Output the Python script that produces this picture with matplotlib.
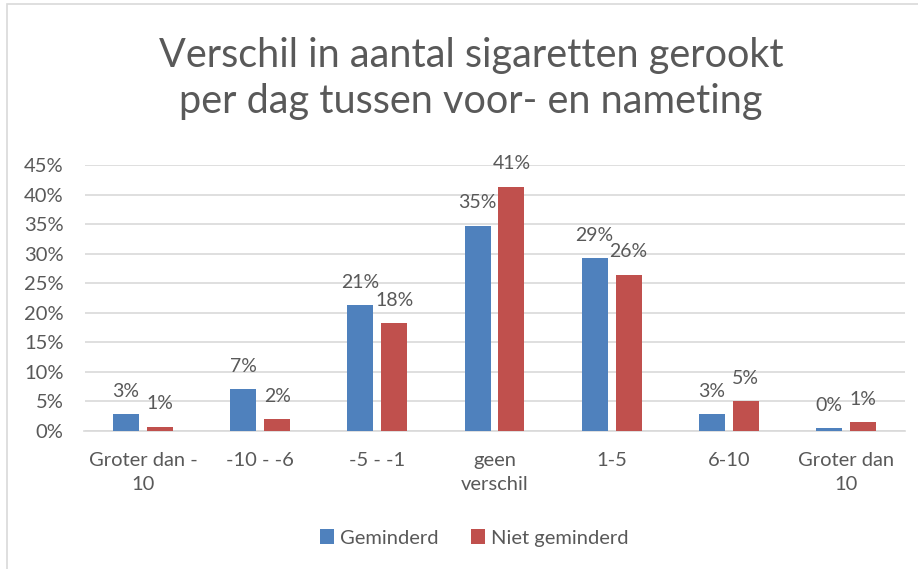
import matplotlib
matplotlib.use("Agg")
import matplotlib.pyplot as plt
from matplotlib.patches import Rectangle
import numpy as np


CATEGORIES = ["Groter dan -\n10", "-10 - -6", "-5 - -1", "geen\nverschil",
              "1-5", "6-10", "Groter dan\n10"]
GEMINDERD = [2.8, 7.0, 21.3, 34.7, 29.2, 2.8, 0.4]
NIET_GEMINDERD = [0.7, 2.0, 18.2, 41.3, 26.4, 5.0, 1.4]
SERIES_NAMES = ["Geminderd", "Niet geminderd"]
Y_TICKS = [0, 5, 10, 15, 20, 25, 30, 35, 40, 45]

TITLE = "Verschil in aantal sigaretten gerookt\nper dag tussen voor- en nameting"

BLUE = "#4F81BD"
RED = "#C0504D"
TEXT_GRAY = "#595959"
GRID_GRAY = "#D9D9D9"

plt.rcParams["font.family"] = ["Lato", "DejaVu Sans"]

W, H = 918, 569
fig = plt.figure(figsize=(W / 100, H / 100), dpi=100)

# thin chart-area border (left and top visible)
fig.patches.append(Rectangle((6.5 / W, -0.1), 1.2, 1 - 3.5 / H + 0.1,
                             transform=fig.transFigure, fill=False,
                             edgecolor=GRID_GRAY, linewidth=1.2))

ax = fig.add_axes([84.5 / W, 1 - 430.7 / H, 820 / W, 265.7 / H])

x = np.arange(len(CATEGORIES))
width = 0.222
offset = 0.145

bars1 = ax.bar(x - offset, GEMINDERD, width, color=BLUE, label=SERIES_NAMES[0], zorder=3)
bars2 = ax.bar(x + offset, NIET_GEMINDERD, width, color=RED, label=SERIES_NAMES[1], zorder=3)

for bars in (bars1, bars2):
    for b in bars:
        val = b.get_height()
        ax.annotate(f"{val:.0f}%", (b.get_x() + b.get_width() / 2, val),
                    xytext=(0, 12.5), textcoords="offset points",
                    ha="center", va="baseline", fontsize=14, color=TEXT_GRAY)

ax.set_xlim(-0.5, len(CATEGORIES) - 0.5)
ax.set_ylim(0, 45)
ax.set_yticks(Y_TICKS)
ax.set_yticklabels([f"{t}%" for t in Y_TICKS])
ax.set_xticks(x)
ax.set_xticklabels(CATEGORIES, linespacing=1.55)

ax.grid(axis="y", color=GRID_GRAY, linewidth=1.2, zorder=0)
for side in ["top", "right", "left"]:
    ax.spines[side].set_visible(False)
ax.spines["bottom"].set_color(GRID_GRAY)
ax.spines["bottom"].set_linewidth(1.2)
ax.tick_params(axis="both", length=0, labelsize=14.5, colors=TEXT_GRAY)
ax.tick_params(axis="x", pad=15)
ax.tick_params(axis="y", pad=15)

fig.text(471 / W, 1 - 78 / H, TITLE, ha="center", va="center",
         fontsize=28.5, color=TEXT_GRAY, linespacing=1.3)

fig.legend(loc="center", bbox_to_anchor=(474.5 / W, 1 - 538 / H), ncol=2,
           frameon=False, fontsize=14.5, handlelength=0.7, handleheight=0.7,
           handletextpad=0.3, columnspacing=1.6, labelcolor=TEXT_GRAY)

fig.savefig("out.png", dpi=100)
